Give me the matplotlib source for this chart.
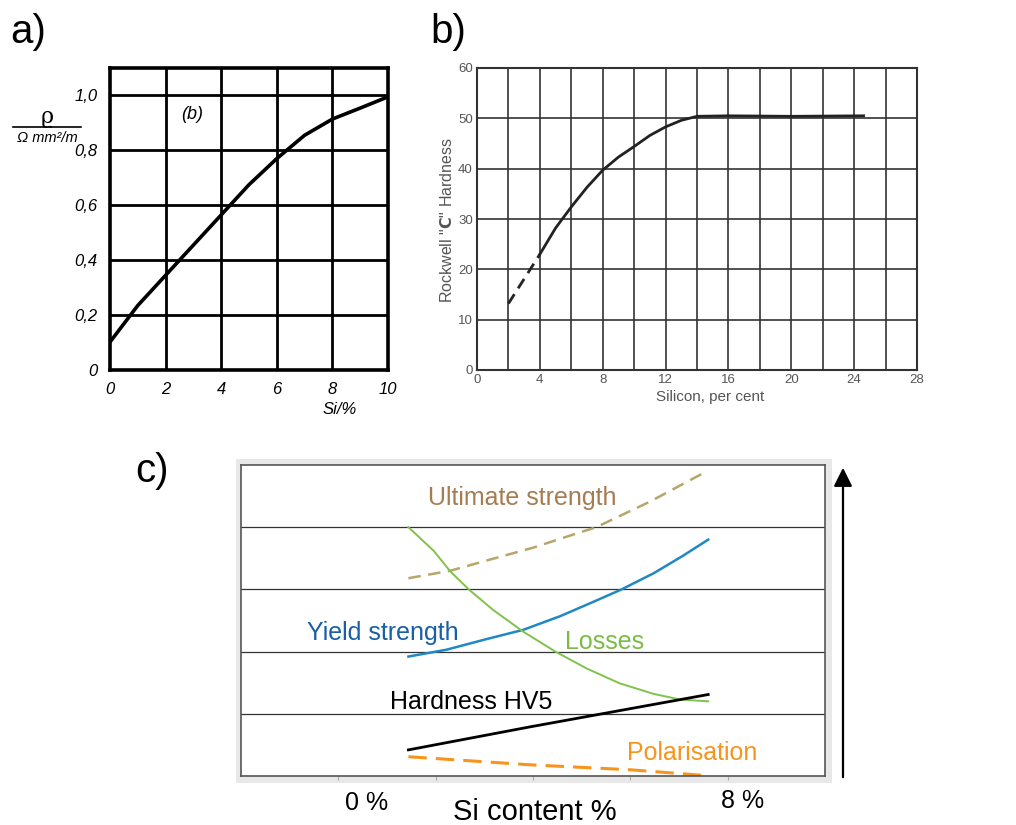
import matplotlib
matplotlib.use("Agg")
import matplotlib.pyplot as plt
from matplotlib.patches import Rectangle, FancyArrowPatch
from matplotlib.lines import Line2D

plt.rcParams['font.family'] = ['Liberation Sans', 'DejaVu Sans']

# ===============================
# Data
# ===============================

# a) resistivity vs Si content
si_a = [0, 1, 2, 3, 4, 5, 6, 7, 8, 9, 10]
rho_a = [0.102, 0.235, 0.345, 0.455, 0.565, 0.675, 0.77, 0.855, 0.914, 0.954, 0.995]
a_yticks = [0, 0.2, 0.4, 0.6, 0.8, 1.0]
a_yticklabels = ["0", "0,2", "0,4", "0,6", "0,8", "1,0"]
a_xticks = [0, 2, 4, 6, 8, 10]

# b) Rockwell C hardness vs silicon
si_b_dash = [2, 4]
hrc_b_dash = [13.2, 23.0]
si_b = [4, 5, 6, 7, 8, 9, 10, 11, 12, 13, 14, 16, 20, 24.6]
hrc_b = [23.0, 28.2, 32.4, 36.3, 39.7, 42.3, 44.4, 46.6, 48.3, 49.6, 50.4, 50.5, 50.4, 50.5]

# c) qualitative trends
ult_x = [1.72, 2.15, 2.56, 3.00, 3.41, 3.65, 4.20, 4.75]
ult_y = [3.18, 3.30, 3.48, 3.67, 3.88, 4.00, 4.41, 4.87]
yield_x = [1.72, 2.11, 2.52, 2.90, 3.28, 3.62, 3.91, 4.24, 4.54, 4.80]
yield_y = [1.92, 2.03, 2.20, 2.35, 2.57, 2.80, 3.00, 3.26, 3.54, 3.80]
loss_x = [1.72, 1.98, 2.15, 2.34, 2.59, 2.90, 3.23, 3.55, 3.89, 4.24, 4.51, 4.80]
loss_y = [4.00, 3.62, 3.29, 3.00, 2.67, 2.32, 2.00, 1.73, 1.49, 1.32, 1.23, 1.20]
hard_x = [1.72, 2.97, 4.80]
hard_y = [0.42, 0.79, 1.31]
pol_x = [1.72, 2.97, 4.0, 4.75]
pol_y = [0.31, 0.18, 0.10, 0.01]

W, H = 1016, 825
fig = plt.figure(figsize=(W / 100, H / 100), dpi=100)


def box(l, t, r, b):
    return [l / W, 1 - b / H, (r - l) / W, (b - t) / H]


def fx(px):
    return px / W


def fy(py):
    return 1 - py / H


# ===============================
# Panel a
# ===============================

ax = fig.add_axes(box(110, 68, 388, 370))
ax.plot(si_a, rho_a, color='black', lw=2.6, solid_capstyle='round', solid_joinstyle='round')
ax.set_xlim(0, 10)
ax.set_ylim(0, 1.1)
for v in a_xticks[1:-1]:
    ax.axvline(v, color='black', lw=2.0)
for v in a_yticks[1:]:
    ax.axhline(v, color='black', lw=2.0)
for s in ax.spines.values():
    s.set_linewidth(2.6)
ax.set_xticks(a_xticks)
ax.set_xticklabels([str(v) for v in a_xticks], style='italic', fontsize=12)
ax.set_yticks(a_yticks)
ax.set_yticklabels(a_yticklabels, style='italic', fontsize=12)
ax.tick_params(length=0, pad=9)
ax.text(2.97, 0.93, "(b)", style='italic', fontsize=13, ha='center', va='center')

fig.text(fx(47), fy(117), "ϱ", fontsize=16, ha='center', va='center', family='DejaVu Serif')
fig.add_artist(Line2D([fx(13), fx(81)], [fy(127), fy(127)], color='black', lw=1.2,
                      transform=fig.transFigure))
fig.text(fx(47), fy(138), "Ω mm²/m", style='italic', fontsize=10.5, ha='center', va='center')
fig.text(fx(340), fy(410), "Si/%", style='italic', fontsize=12, ha='center', va='center')

# ===============================
# Panel b
# ===============================

bx = fig.add_axes(box(477, 68, 917, 370))
bx.plot(si_b_dash, hrc_b_dash, color='#222222', lw=2.0, ls=(0, (4, 2.5)))
bx.plot(si_b, hrc_b, color='#222222', lw=2.0, solid_joinstyle='round')
bx.set_xlim(0, 28)
bx.set_ylim(0, 60)
bx.set_xticks(range(0, 29, 2), minor=True)
bx.set_xticks(range(0, 29, 4))
bx.set_yticks(range(0, 61, 10))
bx.grid(True, which='both', color='#333333', lw=1.2)
for s in bx.spines.values():
    s.set_linewidth(1.5)
    s.set_color('#333333')
bx.tick_params(which='both', length=0, labelsize=9.5, labelcolor='#555555', pad=3)
fig.text(fx(447), fy(220), 'Rockwell "$\\mathbf{C}$" Hardness', rotation=90,
         fontsize=11.5, color='#555555', ha='center', va='center')
fig.text(fx(710), fy(397), "Silicon, per cent", fontsize=11, color='#555555',
         ha='center', va='center')

# ===============================
# Panel c
# ===============================

fig.patches.append(Rectangle((fx(236), fy(783)), (832 - 236) / W, (783 - 459) / H,
                             facecolor='#e8e8e8', edgecolor='none',
                             transform=fig.transFigure, zorder=-1))

cx = fig.add_axes(box(241, 465, 825, 776))
cx.set_zorder(1)
cx.set_xlim(0, 6)
cx.set_ylim(0, 5)
for v in [1, 2, 3, 4]:
    cx.axhline(v, color='#333333', lw=0.9)
for s in cx.spines.values():
    s.set_color('#555555')
    s.set_linewidth(1.2)
cx.set_xticks([1, 2, 3, 4, 5])
cx.set_xticklabels([])
cx.set_yticks([])
cx.tick_params(axis='x', length=3, color='#aaaaaa')

cx.plot(ult_x, ult_y, color='#b8a56a', lw=1.8, ls=(0, (5, 3)))
cx.plot(yield_x, yield_y, color='#1f88c6', lw=1.8)
cx.plot(loss_x, loss_y, color='#80c24a', lw=1.4)
cx.plot(hard_x, hard_y, color='black', lw=2.0)
cx.plot(pol_x, pol_y, color='#f7941d', lw=2.2, ls=(0, (6, 3)))

cx.text(1.92, 4.36, "Ultimate strength", color='#a67c52', fontsize=18, va='baseline')
cx.text(0.68, 2.19, "Yield strength", color='#1a5ea6', fontsize=18, va='baseline')
cx.text(3.33, 2.04, "Losses", color='#79bd45', fontsize=18, va='baseline')
cx.text(1.53, 1.08, "Hardness HV5", color='black', fontsize=18, va='baseline')
cx.text(3.97, 0.26, "Polarisation", color='#f7941d', fontsize=18, va='baseline')
cx.text(1.29, -0.55, "0 %", fontsize=18, ha='center', va='baseline')
cx.text(5.15, -0.51, "8 %", fontsize=18, ha='center', va='baseline')
cx.text(3.02, -0.71, "Si content %", fontsize=21, ha='center', va='baseline')

fig.add_artist(FancyArrowPatch((fx(843), fy(780)), (fx(843), fy(465)),
                               transform=fig.transFigure, arrowstyle='-|>',
                               mutation_scale=28, lw=1.6, color='black'))

# panel letters
fig.text(fx(10), fy(43), "a)", fontsize=29, va='baseline')
fig.text(fx(430), fy(43), "b)", fontsize=29, va='baseline')
fig.text(fx(135), fy(482), "c)", fontsize=29, va='baseline')

fig.savefig("out.png", dpi=100)
